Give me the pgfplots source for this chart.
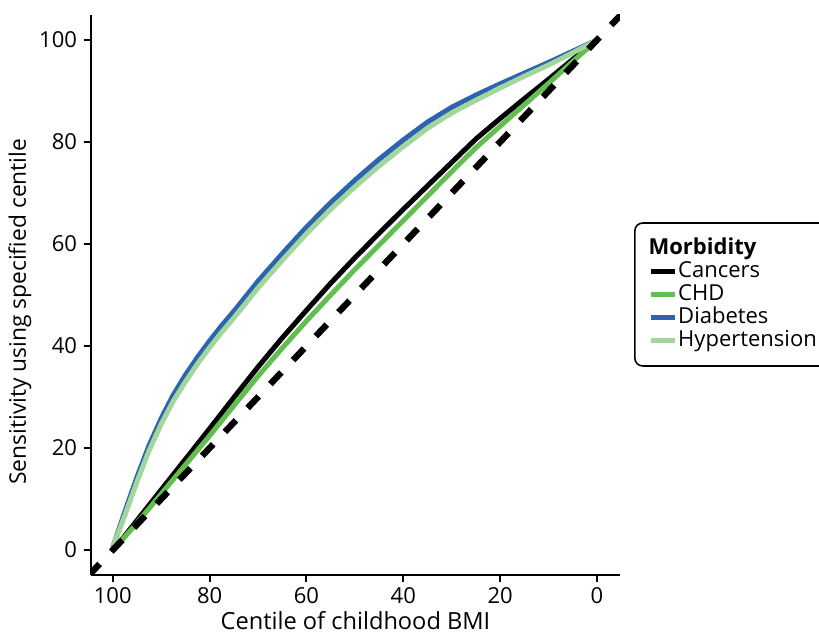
\documentclass[border=0pt]{standalone}
\usepackage{pgfplots}
\pgfplotsset{compat=1.18}
\usepackage{fontspec}
\setmainfont{Open Sans}
\definecolor{chd}{RGB}{99,190,80}
\definecolor{diab}{RGB}{43,100,175}
\definecolor{hyper}{RGB}{162,214,156}
\begin{document}
\begin{tikzpicture}
\begin{axis}[
 width=264.5pt, height=280pt, scale only axis,
 x dir=reverse,
 xmin=-4.75, xmax=104.5, ymin=-4.9, ymax=104.9,
 axis x line*=bottom, axis y line*=left,
 axis line style={line width=1pt, -},
 xtick={0,20,...,100}, ytick={0,20,...,100},
 tick align=outside, major tick length=3.5pt,
 tick style={line width=1pt, black},
 tick label style={font=\fontsize{11}{13}\selectfont},
 xticklabel style={yshift=1pt},
 /pgf/number format/assume math mode=true,
 xlabel={Centile of childhood BMI}, ylabel={Sensitivity using specified centile},
 xlabel style={font=\fontsize{11.8}{13}\selectfont, yshift=3pt},
 ylabel style={font=\fontsize{11.4}{13}\selectfont, at={(ticklabel cs:0.47,-3pt)}},
 legend style={at={(1.0265,0.63)}, anchor=north west, draw=black, line width=0.8pt,
   rounded corners=4pt, font=\fontsize{11}{13}\selectfont, inner sep=7pt,
   nodes={inner sep=0.25pt, text height=8.5pt, text depth=2.5pt}},
 legend cell align=left,
 legend image code/.code={\draw[#1, line width=2.5pt, rounded corners=0pt] (0cm,0cm) -- (0.42cm,0cm);},
]
\addlegendimage{empty legend}
\addlegendentry{\hspace*{-0.52cm}\textbf{Morbidity}}
\addplot[black, line width=2.5pt] coordinates {
(99,1) (95,5.8) (90,11.8) (85,17.8) (80,23.8) (75,29.9) (70,35.9) (65,41.6) (60,47.0) (55,52.3) (50,57.3) (45,62.1) (40,66.8) (35,71.4) (30,76) (25,80.6) (20,84.6) (15,88.5) (10,92.3) (5,96.2) (0,100)};
\addlegendentry{Cancers}
\addplot[chd, line width=2.5pt] coordinates {
(99,1) (95,5.3) (90,11) (85,16.7) (80,22.4) (75,28.3) (70,34.1) (65,39.6) (60,44.9) (55,50.0) (50,55.0) (45,59.8) (40,64.6) (35,69.4) (30,74.2) (25,78.9) (20,83.1) (15,87.3) (10,91.5) (5,95.8) (0,100)};
\addlegendentry{CHD}
\addplot[diab, line width=2.5pt] coordinates {
(100,0.5) (97.5,7.5) (95,14.3) (92.5,20.5) (90,25.8) (87.5,30.4) (85,34.3) (82.5,37.8) (80,41) (77.5,44.0) (75,46.8) (70,52.7) (65,58.1) (60,63.3) (55,68.1) (50,72.5) (45,76.6) (40,80.4) (35,83.9) (30,86.8) (25,89.2) (20,91.4) (15,93.5) (10,95.6) (5,97.8) (0,100)};
\addlegendentry{Diabetes}
\addplot[hyper, line width=2.5pt] coordinates {
(100,0.5) (97.5,6.8) (95,13.4) (92.5,19.5) (90,24.7) (87.5,29.2) (85,33.0) (82.5,36.5) (80,39.7) (77.5,42.7) (75,45.5) (70,51.4) (65,56.8) (60,62.0) (55,66.8) (50,71.2) (45,75.3) (40,79.1) (35,82.7) (30,85.7) (25,88.2) (20,90.6) (15,92.9) (10,95.1) (5,97.5) (0,100)};
\addlegendentry{Hypertension}
\addplot[black, line width=3.2pt, dash pattern=on 8pt off 8.5pt, forget plot] coordinates {(105,-5) (-5,105)};
\end{axis}
\pgfresetboundingbox
\useasboundingbox (current axis.south west) ++(-45.5pt,-30.5pt) rectangle ++(409.5pt,318pt);
\end{tikzpicture}
\end{document}
